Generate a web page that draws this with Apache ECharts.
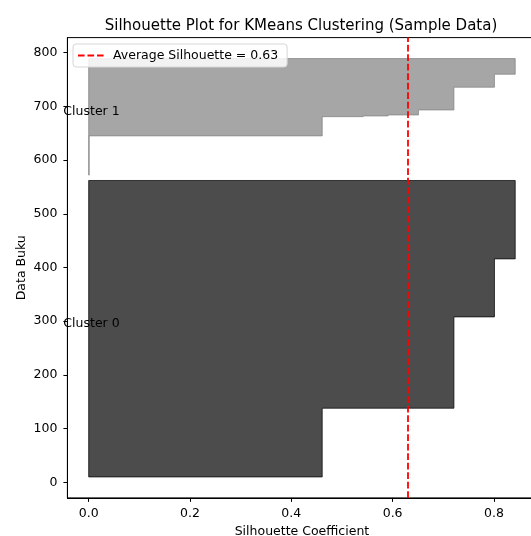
<!DOCTYPE html>
<html>
<head>
<meta charset="utf-8">
<script src="https://cdn.jsdelivr.net/npm/echarts@6/dist/echarts.min.js"></script>
<style>
html,body{margin:0;padding:0;background:#fff;}
#c{width:531px;height:536px;}
</style>
</head>
<body>
<div id="c"></div>
<script>
// ---- data ----
const titleText = 'Silhouette Plot for KMeans Clustering (Sample Data)';
const clusterNames = ['Cluster 0', 'Cluster 1'];
// sample-index boundaries (y) and silhouette values of each sorted run
const cluster0Edges = [10, 138, 308, 416, 562];
const cluster0Values = [0.461, 0.721, 0.801, 0.842];
const cluster1Edges = [572, 645, 680.8, 682.1, 684, 693.3, 735.6, 759.8, 789];
const cluster1Values = [0.001, 0.461, 0.542, 0.591, 0.651, 0.721, 0.801, 0.842];
const averageSilhouette = 0.634;
const averageLabel = 'Average Silhouette = 0.63';
const xTicks = [0, 0.2, 0.4, 0.6, 0.8];
const yTicks = [0, 100, 200, 300, 400, 500, 600, 700, 800];
const xRange = [-0.042, 0.884];
const yRange = [-29, 828];
const labelX = -0.05;

const clusters = [
  {edges: cluster0Edges, values: cluster0Values, fill: 'rgba(0,0,0,0.7)', stroke: 'rgba(0,0,0,0.7)'},
  {edges: cluster1Edges, values: cluster1Values, fill: 'rgba(128,128,128,0.7)', stroke: 'rgba(128,128,128,0.7)'}
];

const FONT = 'DejaVu Sans';
const FS = 12.5;
const DASH = [6.6, 2.9];
const chart = echarts.init(document.getElementById('c'), null, {renderer: 'canvas'});

function renderCluster(params, api) {
  const idx = api.value(0);
  const c = clusters[idx];
  const pts = [api.coord([0, c.edges[0]])];
  for (let k = 0; k < c.values.length; k++) {
    pts.push(api.coord([c.values[k], c.edges[k]]));
    pts.push(api.coord([c.values[k], c.edges[k + 1]]));
  }
  pts.push(api.coord([0, c.edges[c.edges.length - 1]]));
  const mid = (c.edges[0] + c.edges[c.edges.length - 1]) / 2;
  const lp = api.coord([labelX, mid]);
  return {
    type: 'group',
    children: [
      {
        type: 'polygon',
        shape: {points: pts},
        style: {fill: c.fill, stroke: c.stroke, lineWidth: 1}
      },
      {
        type: 'text',
        x: lp[0], y: lp[1] - 5,
        style: {
          text: clusterNames[idx], fill: '#000', font: FS + 'px "' + FONT + '"',
          align: 'left', verticalAlign: 'middle'
        },
        z2: 100
      }
    ]
  };
}

const axisCommon = {
  axisLine: {show: true, onZero: false, lineStyle: {color: '#000', width: 1}},
  axisTick: {show: true, length: 4, inside: false, lineStyle: {color: '#000', width: 1}},
  splitLine: {show: false},
  nameMoveOverlap: false,
  nameTextStyle: {color: '#000', fontSize: FS, fontFamily: FONT}
};

chart.setOption({
  animation: false,
  backgroundColor: '#fff',
  textStyle: {fontFamily: FONT},
  title: {
    text: titleText,
    left: 296, top: 14, textAlign: 'center',
    textStyle: {fontSize: 15, fontWeight: 'normal', color: '#000', fontFamily: FONT}
  },
  legend: {
    left: 73, top: 44,
    orient: 'vertical',
    padding: [5, 9, 5, 4],
    itemWidth: 26, itemHeight: 12,
    backgroundColor: 'rgba(255,255,255,0.85)',
    borderColor: '#d6d6d6', borderWidth: 1, borderRadius: 3,
    itemStyle: {opacity: 0},
    textStyle: {fontSize: FS, color: '#000', fontFamily: FONT, padding: [0, 0, 0, 4]},
    data: [averageLabel]
  },
  grid: {
    left: 67.4, right: -5.5, top: 37.6, bottom: 38.1,
    show: true, borderColor: '#000', borderWidth: 1,
    containLabel: false, outerBoundsMode: 'none'
  },
  xAxis: Object.assign({}, axisCommon, {
    type: 'value', min: xRange[0], max: xRange[1],
    name: 'Silhouette Coefficient', nameLocation: 'middle', nameGap: 27,
    axisTick: Object.assign({}, axisCommon.axisTick, {customValues: xTicks}),
    axisLabel: {customValues: xTicks, margin: 9, fontSize: FS, color: '#000', fontFamily: FONT,
      formatter: v => v.toFixed(1)}
  }),
  yAxis: Object.assign({}, axisCommon, {
    type: 'value', min: yRange[0], max: yRange[1],
    name: 'Data Buku', nameLocation: 'middle', nameGap: 39,
    axisTick: Object.assign({}, axisCommon.axisTick, {customValues: yTicks}),
    axisLabel: {customValues: yTicks, margin: 10, fontSize: FS, color: '#000', fontFamily: FONT}
  }),
  series: [
    {
      type: 'custom',
      name: 'silhouette',
      renderItem: renderCluster,
      data: [[0], [1]],
      encode: {x: 0, y: 0},
      clip: false,
      silent: true,
      z: 2
    },
    {
      type: 'line',
      name: averageLabel,
      data: [],
      symbol: 'none',
      lineStyle: {color: '#ff0000', width: 1.8, type: DASH},
      itemStyle: {color: '#ff0000'},
      z: 5,
      markLine: {
        silent: true,
        symbol: 'none',
        label: {show: false},
        lineStyle: {color: '#ff0000', width: 1.8, type: DASH},
        data: [{xAxis: averageSilhouette}]
      }
    }
  ]
});
</script>
</body>
</html>
